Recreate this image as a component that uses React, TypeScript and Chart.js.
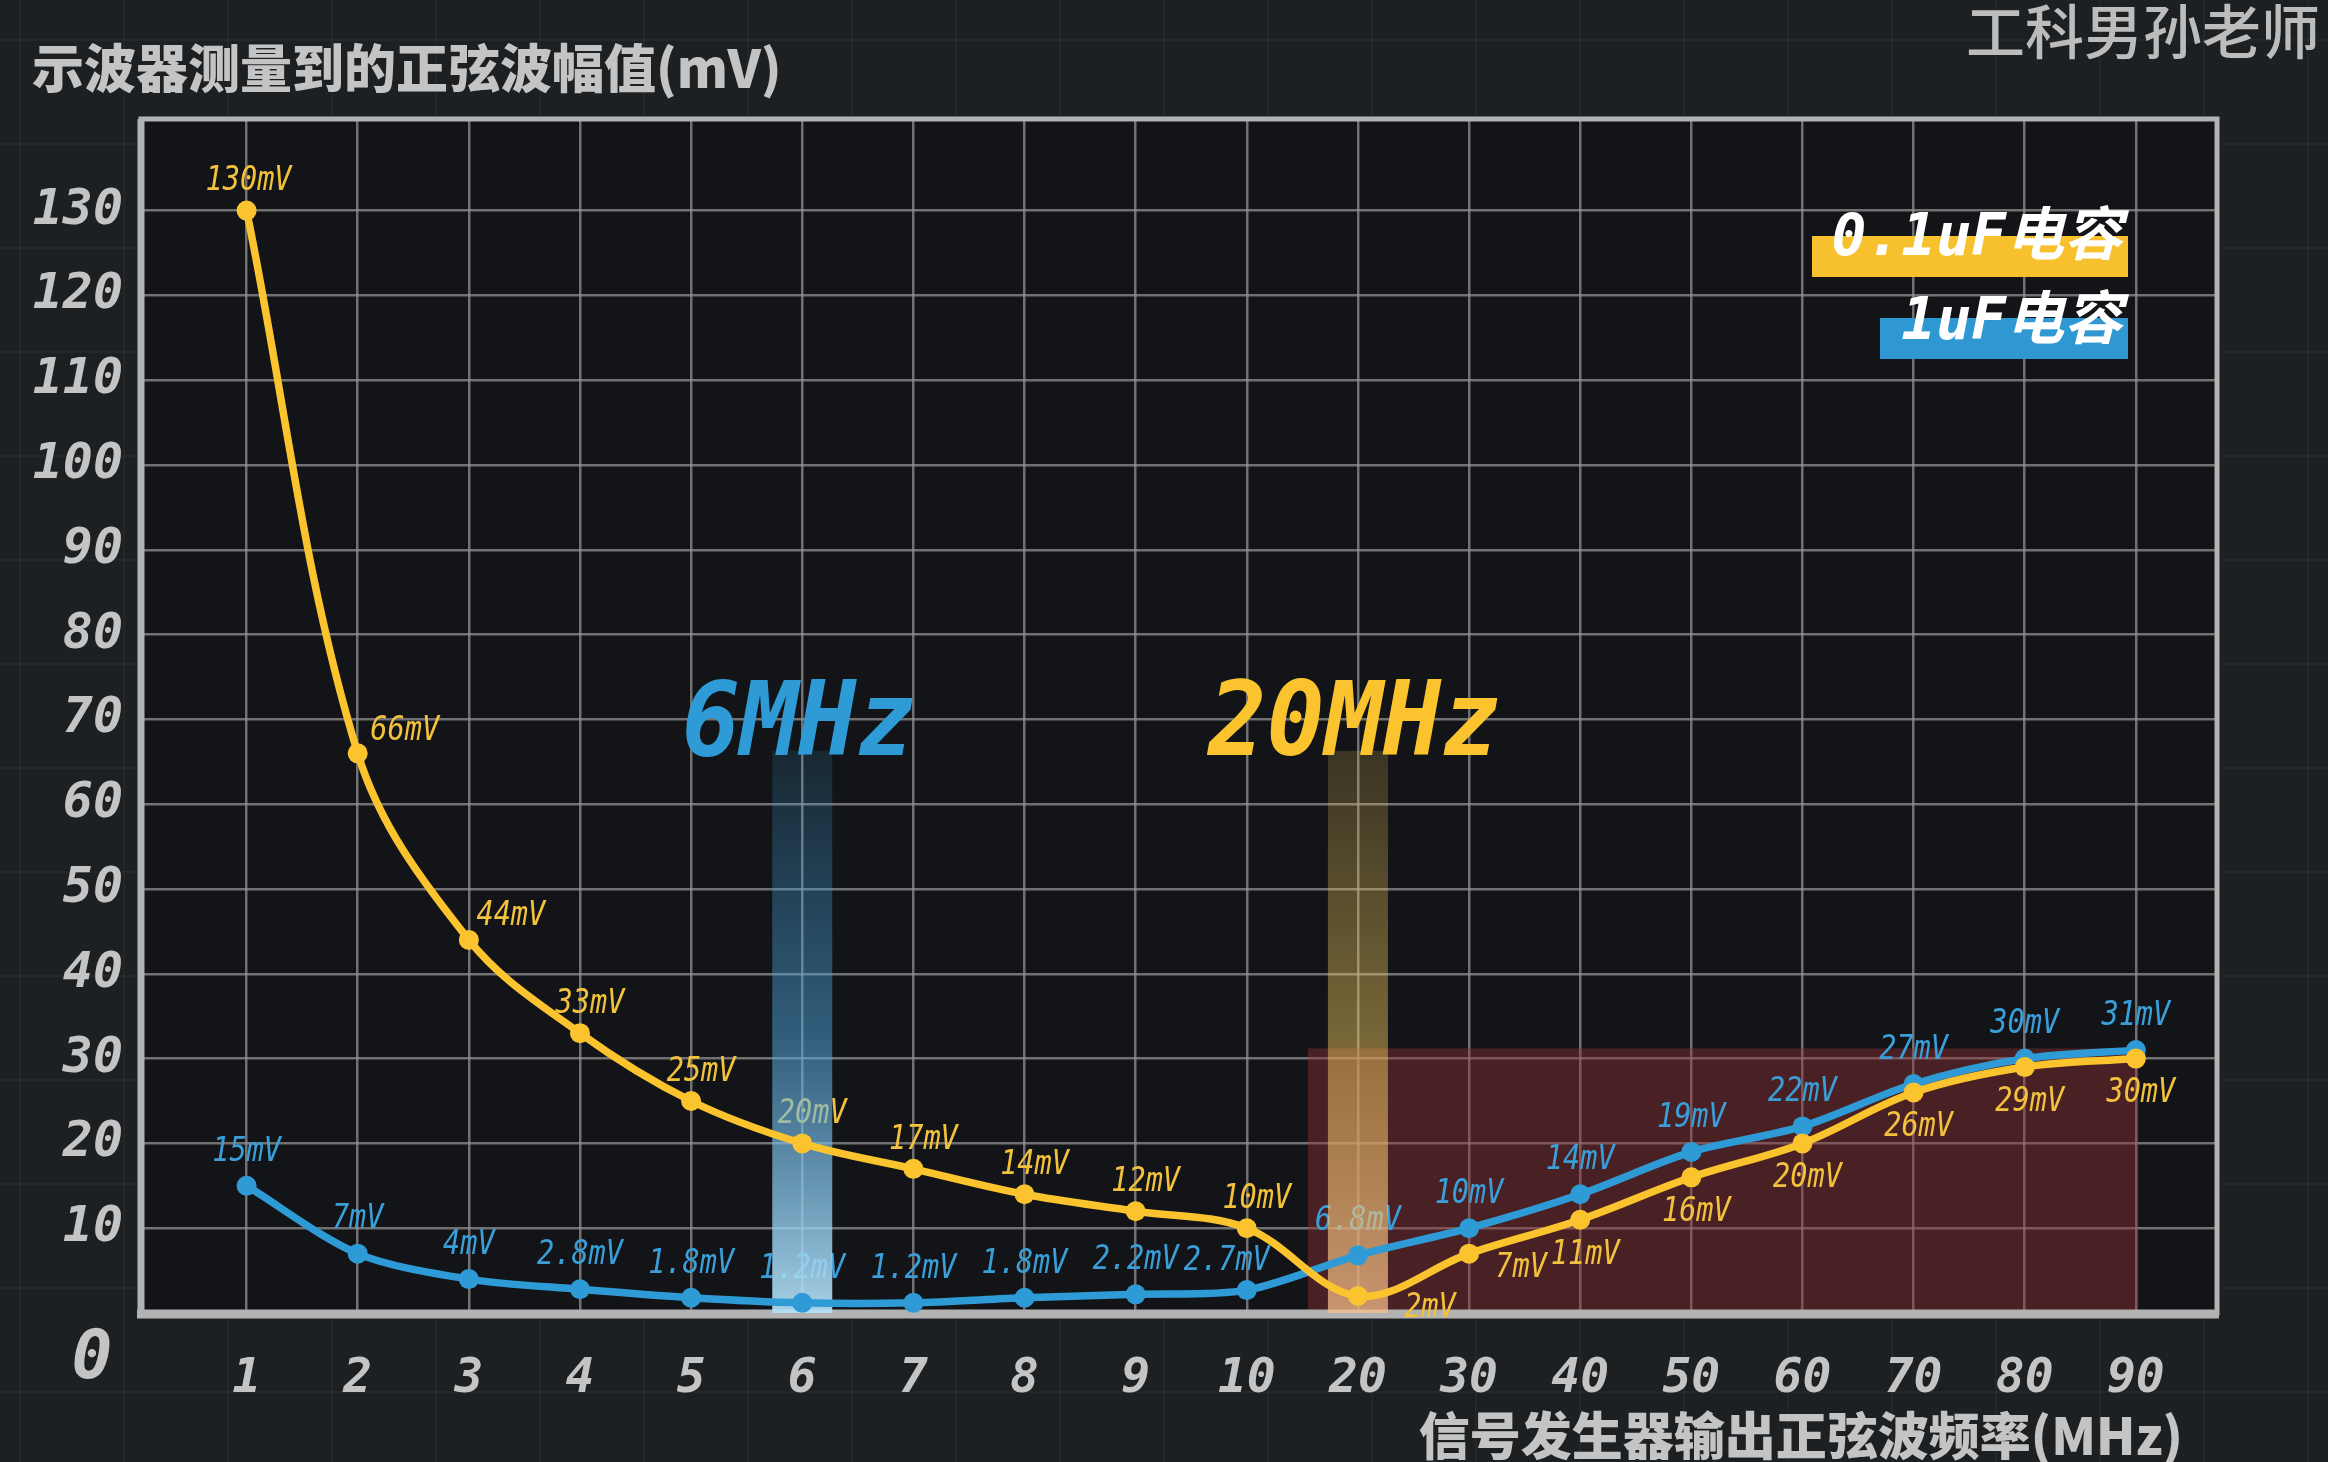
import React, { useEffect, useRef } from "react";
import { Chart, registerables } from "chart.js";

Chart.register(...registerables);

const xLabels = ["1", "2", "3", "4", "5", "6", "7", "8", "9", "10", "20", "30", "40", "50", "60", "70", "80", "90"];
const cap01uF = [130, 66, 44, 33, 25, 20, 17, 14, 12, 10, 2, 7, 11, 16, 20, 26, 29, 30];
const cap1uF = [15, 7, 4, 2.8, 1.8, 1.2, 1.2, 1.8, 2.2, 2.7, 6.8, 10, 14, 19, 22, 27, 30, 31];
const yTickValues = [10, 20, 30, 40, 50, 60, 70, 80, 90, 100, 110, 120, 130];
const seriesNames = ["0.1uF电容", "1uF电容"];
const titleText = "示波器测量到的正弦波幅值(mV)";
const xTitleText = "信号发生器输出正弦波频率(MHz)";
const watermarkText = "工科男孙老师";
const highlightLabels = ["6MHz", "20MHz"];
const highlightIndex = [5, 10];
const zoneRange = { xFrom: 9.55, xTo: 17.02, yTo: 31.2 };

const YELLOW = "#fbc42f";
const BLUE = "#2f9bd6";
const GRAY = "#c4c4c4";
const MONO = "'DejaVu Sans Mono', monospace";
const CJK = "'Noto Sans CJK SC', 'Noto Sans', sans-serif";

function yellowOffset(i: number): [number, number] {
  if (i === 0) return [2, -29];
  if (i === 1) return [47, -22];
  if (i === 2) return [42, -24];
  if (i < 10) return [10, -29];
  if (i === 10) return [72, 12];
  if (i === 11) return [52, 15];
  return [5, 35];
}
function blueOffset(i: number): [number, number] {
  if (i === 9) return [-20, -29];
  return [0, -34];
}

function narrowText(ctx: any, text: string, x: number, y: number, sx: number) {
  ctx.save();
  ctx.translate(x, y);
  ctx.scale(sx, 1);
  ctx.fillText(text, 0, 0);
  ctx.restore();
}

const decoPlugin = {
  id: "deco",
  beforeDraw(chart: any) {
    const { ctx, chartArea: a, width, height } = chart;
    ctx.save();
    ctx.fillStyle = "#1d2023";
    ctx.fillRect(0, 0, width, height);
    ctx.strokeStyle = "rgba(255,255,255,0.035)";
    ctx.lineWidth = 2;
    for (let x = 20; x < width; x += 104) {
      ctx.beginPath(); ctx.moveTo(x, 0); ctx.lineTo(x, height); ctx.stroke();
    }
    for (let y = 40; y < height; y += 104) {
      ctx.beginPath(); ctx.moveTo(0, y); ctx.lineTo(width, y); ctx.stroke();
    }
    ctx.fillStyle = "#121417";
    ctx.fillRect(a.left, a.top, a.right - a.left, a.bottom - a.top);
    ctx.restore();
  },
  beforeDatasetsDraw(chart: any) {
    const { ctx, chartArea: a, scales } = chart;
    const xs = scales.x, ys = scales.y;
    ctx.save();
    const zx0 = xs.getPixelForValue(zoneRange.xFrom);
    const zx1 = xs.getPixelForValue(zoneRange.xTo);
    const zy = ys.getPixelForValue(zoneRange.yTo);
    ctx.fillStyle = "rgba(150,52,56,0.42)";
    ctx.fillRect(zx0, zy, zx1 - zx0, a.bottom - zy);
    ctx.strokeStyle = "#b2b2b2";
    ctx.lineWidth = 5;
    ctx.strokeRect(a.left, a.top, a.right - a.left, a.bottom - a.top);
    ctx.lineWidth = 9;
    ctx.beginPath(); ctx.moveTo(a.left - 4, a.bottom + 1); ctx.lineTo(a.right + 2, a.bottom + 1); ctx.stroke();
    ctx.lineWidth = 7;
    ctx.beginPath(); ctx.moveTo(a.left, a.top); ctx.lineTo(a.left, a.bottom); ctx.stroke();
    ctx.font = `italic 34px ${MONO}`;
    ctx.textAlign = "center";
    ctx.textBaseline = "middle";
    const m0 = chart.getDatasetMeta(0).data;
    const m1 = chart.getDatasetMeta(1).data;
    ctx.fillStyle = "#f2c23c";
    cap01uF.forEach((v, i) => {
      const p = m0[i];
      const [dx, dy] = yellowOffset(i);
      narrowText(ctx, `${v}mV`, p.x + dx, p.y + dy, 0.84);
    });
    ctx.fillStyle = "#3a9fd8";
    cap1uF.forEach((v, i) => {
      const p = m1[i];
      const [dx, dy] = blueOffset(i);
      narrowText(ctx, `${v}mV`, p.x + dx, p.y + dy, 0.84);
    });
    const bandTop = ys.getPixelForValue(66.3);
    const bandW = 60;
    highlightIndex.forEach((idx, k) => {
      const cx = xs.getPixelForValue(idx);
      const g = ctx.createLinearGradient(0, bandTop, 0, a.bottom);
      if (k === 0) {
        g.addColorStop(0, "rgba(60,160,220,0.14)");
        g.addColorStop(0.5, "rgba(80,165,220,0.5)");
        g.addColorStop(1, "rgba(180,225,248,0.92)");
      } else {
        g.addColorStop(0, "rgba(240,200,90,0.18)");
        g.addColorStop(0.55, "rgba(240,200,95,0.48)");
        g.addColorStop(1, "rgba(248,192,140,0.72)");
      }
      ctx.fillStyle = g;
      ctx.fillRect(cx - bandW / 2, bandTop, bandW, a.bottom - bandTop);
    });
    ctx.restore();
  },
  afterDraw(chart: any) {
    const { ctx, scales } = chart;
    const xs = scales.x, ys = scales.y;
    ctx.save();
    ctx.textBaseline = "middle";
    ctx.fillStyle = GRAY;
    ctx.font = `900 52px ${CJK}`;
    ctx.textAlign = "left";
    ctx.fillText(titleText, 32, 68);
    ctx.textAlign = "right";
    ctx.font = `900 51px ${CJK}`;
    ctx.fillText(xTitleText, 2183, 1436);
    ctx.fillStyle = "#bcbcbc";
    ctx.font = `500 59px ${CJK}`;
    ctx.fillText(watermarkText, 2320, 32);
    ctx.fillStyle = GRAY;
    ctx.textAlign = "center";
    ctx.font = `bold italic 68px ${MONO}`;
    ctx.fillText("0", 92, 1360);
    ctx.font = `bold italic 104px ${MONO}`;
    const colors = [BLUE, YELLOW];
    highlightIndex.forEach((idx, k) => {
      ctx.fillStyle = colors[k];
      narrowText(ctx, highlightLabels[k], xs.getPixelForValue(idx) - 4, ys.getPixelForValue(69), 0.93);
    });
    ctx.fillStyle = "#f7c02d";
    ctx.fillRect(1812, 236, 316, 41);
    ctx.fillStyle = "#2f98d2";
    ctx.fillRect(1880, 318, 248, 41);
    ctx.fillStyle = "#ffffff";
    ctx.textAlign = "right";
    ctx.font = `bold italic 58px ${MONO}, ${CJK}`;
    ctx.fillText(seriesNames[0], 2122, 240);
    ctx.fillText(seriesNames[1], 2122, 324);
    ctx.restore();
  },
};

export default function App() {
  const ref = useRef<HTMLCanvasElement | null>(null);
  useEffect(() => {
    if (!ref.current) return;
    const gridColor = "rgba(150,150,150,0.72)";
    const chart = new Chart(ref.current, {
      type: "line",
      data: {
        datasets: [
          {
            label: seriesNames[0],
            data: cap01uF.map((v, i) => ({ x: i, y: v })),
            borderColor: YELLOW,
            backgroundColor: YELLOW,
            borderWidth: 7.5,
            pointRadius: 10,
            pointBorderWidth: 0,
            tension: 0.35,
          },
          {
            label: seriesNames[1],
            data: cap1uF.map((v, i) => ({ x: i, y: v })),
            borderColor: BLUE,
            backgroundColor: BLUE,
            borderWidth: 7.5,
            pointRadius: 10,
            pointBorderWidth: 0,
            tension: 0.3,
          },
        ],
      },
      options: {
        animation: false,
        responsive: false,
        layout: { padding: { top: 119, right: 111, left: 0, bottom: 0 } },
        plugins: { legend: { display: false }, tooltip: { enabled: false } },
        scales: {
          x: {
            type: "linear",
            min: -0.95,
            max: 17.73,
            afterBuildTicks: (s: any) => {
              s.ticks = xLabels.map((_, i) => ({ value: i }));
            },
            afterFit: (s: any) => {
              s.height = 149;
            },
            ticks: {
              callback: (v: any) => xLabels[v] ?? "",
              color: GRAY,
              font: { family: MONO, size: 48, style: "italic", weight: "bold" },
              padding: 38,
              autoSkip: false,
              maxRotation: 0,
            },
            grid: { color: gridColor, lineWidth: 2.5, drawTicks: false },
            border: { display: false },
          },
          y: {
            min: 0,
            max: 140.8,
            afterBuildTicks: (s: any) => {
              s.ticks = yTickValues.map((v) => ({ value: v }));
            },
            afterFit: (s: any) => {
              s.width = 141;
            },
            ticks: {
              callback: (v: any) => String(v),
              color: GRAY,
              font: { family: MONO, size: 50, style: "italic", weight: "bold" },
              padding: 18,
            },
            grid: { color: gridColor, lineWidth: 2.5, drawTicks: false },
            border: { display: false },
          },
        },
      },
      plugins: [decoPlugin],
    } as any);
    return () => chart.destroy();
  }, []);
  return (
    <div style={{ position: "fixed", left: 0, top: 0, width: 2328, height: 1462, background: "#1d2023" }}>
      <canvas ref={ref} width={2328} height={1462} style={{ width: 2328, height: 1462, display: "block" }} />
    </div>
  );
}
